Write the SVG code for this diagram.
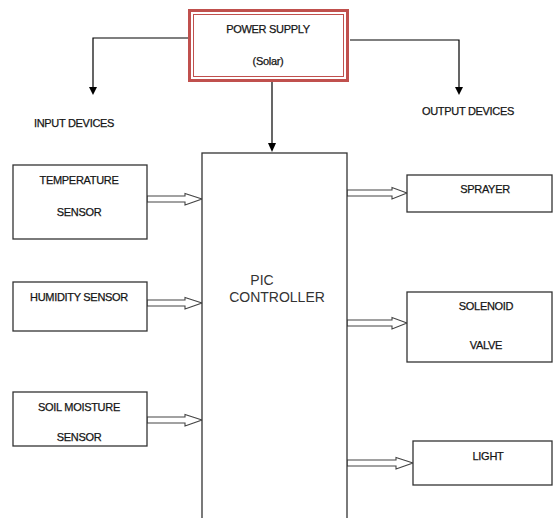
<svg xmlns="http://www.w3.org/2000/svg" width="554" height="518" viewBox="0 0 554 518">
<defs>
<style>
.box{fill:#fff;stroke:#333;stroke-width:1.3}
.t{font-family:"Liberation Sans",Arial,sans-serif;font-size:11px;fill:#151515;stroke:#151515;stroke-width:0.25;text-anchor:middle;letter-spacing:-0.3px}
.big{font-family:"Liberation Sans",Arial,sans-serif;font-size:14px;fill:#333;text-anchor:middle}
.ln{fill:none;stroke:#000;stroke-width:1.2}
.ha{fill:#fff;stroke:#444;stroke-width:1.1}
</style>
</defs>
<rect width="554" height="518" fill="#fff"/>
<g id="connectors">
<polyline class="ln" points="188,38 93,38 93,88"/>
<path d="M89,87 L97,87 L93,95 Z" fill="#000"/>
<polyline class="ln" points="350,40 459,40 459,88"/>
<path d="M455,87 L463,87 L459,95 Z" fill="#000"/>
<line class="ln" x1="272" y1="82" x2="272" y2="144"/>
<path d="M268,143 L276,143 L272,152 Z" fill="#000"/>
<polygon class="ha" points="147,196 185,196 185,193.5 202,199 185,205 185,202 147,202"/>
<polygon class="ha" points="147,300 185,300 185,297.5 202,303 185,309 185,306 147,306"/>
<polygon class="ha" points="147,417 185,417 185,414.5 202,420 185,426 185,423 147,423"/>
<polygon class="ha" points="347,190 392,190 392,187.5 407,193 392,199 392,196 347,196"/>
<polygon class="ha" points="347,320 392,320 392,317.5 407,323 392,329 392,326 347,326"/>
<polygon class="ha" points="347,460 396,460 396,457.5 413,463 396,469 396,466 347,466"/>
</g>
<g id="power-supply">
<rect x="189.5" y="10.5" width="158" height="70" fill="#fff" stroke="#c0504d" stroke-width="3"/>
<rect x="193.5" y="14.5" width="150" height="62" fill="none" stroke="#c0504d" stroke-width="1"/>
<text class="t" x="268" y="33">POWER SUPPLY</text>
<text class="t" x="268" y="65">(Solar)</text>
</g>
<g id="input-label"><text class="t" x="74" y="127">INPUT DEVICES</text></g>
<g id="output-label"><text class="t" x="468" y="115">OUTPUT DEVICES</text></g>
<g id="pic-controller">
<rect class="box" x="202" y="153" width="145" height="370"/>
<text class="big" x="262" y="285">PIC</text>
<text class="big" x="277" y="302">CONTROLLER</text>
</g>
<g id="temperature-sensor">
<rect class="box" x="13" y="165" width="134" height="74"/>
<text class="t" x="79" y="184">TEMPERATURE</text>
<text class="t" x="79" y="216">SENSOR</text>
</g>
<g id="humidity-sensor">
<rect class="box" x="13" y="282" width="134" height="49"/>
<text class="t" x="79" y="301">HUMIDITY SENSOR</text>
</g>
<g id="soil-moisture-sensor">
<rect class="box" x="13" y="392" width="134" height="54"/>
<text class="t" x="79" y="411">SOIL MOISTURE</text>
<text class="t" x="79" y="441">SENSOR</text>
</g>
<g id="sprayer">
<rect class="box" x="407" y="175" width="145" height="37"/>
<text class="t" x="485" y="193">SPRAYER</text>
</g>
<g id="solenoid-valve">
<rect class="box" x="407" y="292" width="145" height="70"/>
<text class="t" x="486" y="310">SOLENOID</text>
<text class="t" x="486" y="349">VALVE</text>
</g>
<g id="light">
<rect class="box" x="413" y="441" width="139" height="44"/>
<text class="t" x="488" y="460">LIGHT</text>
</g>
</svg>
